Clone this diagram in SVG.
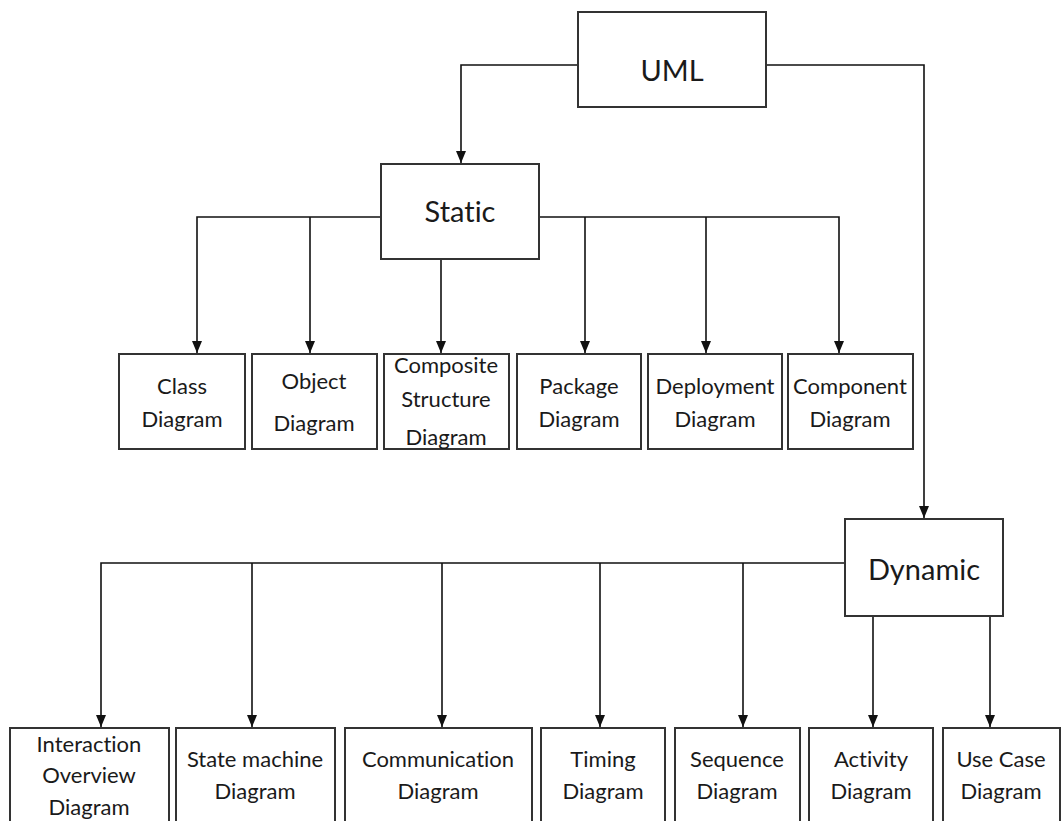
<svg xmlns="http://www.w3.org/2000/svg" width="1064" height="821" viewBox="0 0 1064 821">
<style>
.box{fill:#fff;stroke:#333;stroke-width:2}
.ln{fill:none;stroke:#111;stroke-width:1.6}
text{font-family:Lato,"Open Sans","Liberation Sans",sans-serif;fill:#1a1a1a;text-anchor:middle;font-variant-ligatures:none;font-feature-settings:"liga" 0}
.big{font-size:29px}
.sm{font-size:22px}
</style>
<defs>
<marker id="ah" markerUnits="userSpaceOnUse" markerWidth="10" markerHeight="12" viewBox="0 0 10 12" refX="5" refY="12" orient="0">
<path d="M0,0 L10,0 L5,12 z" fill="#111"/>
</marker>
</defs>
<rect width="1064" height="821" fill="#fff"/>
<g id="connectors">
<path class="ln" d="M578,65 H461 V163" marker-end="url(#ah)"/>
<path class="ln" d="M766,65 H924 V518" marker-end="url(#ah)"/>
<path class="ln" d="M381,217 H197 V353" marker-end="url(#ah)"/>
<path class="ln" d="M310,217 V353" marker-end="url(#ah)"/>
<path class="ln" d="M441,259 V353" marker-end="url(#ah)"/>
<path class="ln" d="M539,217 H839 V353" marker-end="url(#ah)"/>
<path class="ln" d="M585,217 V353" marker-end="url(#ah)"/>
<path class="ln" d="M706,217 V353" marker-end="url(#ah)"/>
<path class="ln" d="M845,563 H101 V727" marker-end="url(#ah)"/>
<path class="ln" d="M252,563 V727" marker-end="url(#ah)"/>
<path class="ln" d="M442,563 V727" marker-end="url(#ah)"/>
<path class="ln" d="M600,563 V727" marker-end="url(#ah)"/>
<path class="ln" d="M743,563 V727" marker-end="url(#ah)"/>
<path class="ln" d="M873,616 V727" marker-end="url(#ah)"/>
<path class="ln" d="M990,616 V727" marker-end="url(#ah)"/>
</g>
<g id="uml"><rect class="box" x="578" y="12" width="188" height="95"/><text class="big" x="672" y="81">UML</text></g>
<g id="static"><rect class="box" x="381" y="164" width="158" height="95"/><text class="big" x="460" y="222">Static</text></g>
<g id="dynamic"><rect class="box" x="845" y="519" width="158" height="97"/><text class="big" x="924" y="580">Dynamic</text></g>
<g id="class"><rect class="box" x="119" y="354" width="126" height="95"/><text class="sm" x="182" y="394">Class</text><text class="sm" x="182" y="427">Diagram</text></g>
<g id="object"><rect class="box" x="252" y="354" width="125" height="95"/><text class="sm" x="314" y="389">Object</text><text class="sm" x="314" y="431">Diagram</text></g>
<g id="composite"><rect class="box" x="384" y="354" width="125" height="95"/><text class="sm" x="446" y="373">Composite</text><text class="sm" x="446" y="407">Structure</text><text class="sm" x="446" y="445">Diagram</text></g>
<g id="package"><rect class="box" x="517" y="354" width="124" height="95"/><text class="sm" x="579" y="394">Package</text><text class="sm" x="579" y="427">Diagram</text></g>
<g id="deployment"><rect class="box" x="648" y="354" width="134" height="95"/><text class="sm" x="715" y="394">Deployment</text><text class="sm" x="715" y="427">Diagram</text></g>
<g id="component"><rect class="box" x="788" y="354" width="125" height="95"/><text class="sm" x="850" y="394">Component</text><text class="sm" x="850" y="427">Diagram</text></g>
<g id="interaction"><rect class="box" x="10" y="728" width="159" height="110"/><text class="sm" x="89" y="752">Interaction</text><text class="sm" x="89" y="783">Overview</text><text class="sm" x="89" y="815">Diagram</text></g>
<g id="statemachine"><rect class="box" x="176" y="728" width="159" height="110"/><text class="sm" x="255" y="767">State machine</text><text class="sm" x="255" y="799">Diagram</text></g>
<g id="communication"><rect class="box" x="345" y="728" width="187" height="110"/><text class="sm" x="438" y="767">Communication</text><text class="sm" x="438" y="799">Diagram</text></g>
<g id="timing"><rect class="box" x="541" y="728" width="124" height="110"/><text class="sm" x="603" y="767">Timing</text><text class="sm" x="603" y="799">Diagram</text></g>
<g id="sequence"><rect class="box" x="675" y="728" width="125" height="110"/><text class="sm" x="737" y="767">Sequence</text><text class="sm" x="737" y="799">Diagram</text></g>
<g id="activity"><rect class="box" x="809" y="728" width="124" height="110"/><text class="sm" x="871" y="767">Activity</text><text class="sm" x="871" y="799">Diagram</text></g>
<g id="usecase"><rect class="box" x="943" y="728" width="117" height="110"/><text class="sm" x="1001" y="767">Use Case</text><text class="sm" x="1001" y="799">Diagram</text></g>
</svg>
